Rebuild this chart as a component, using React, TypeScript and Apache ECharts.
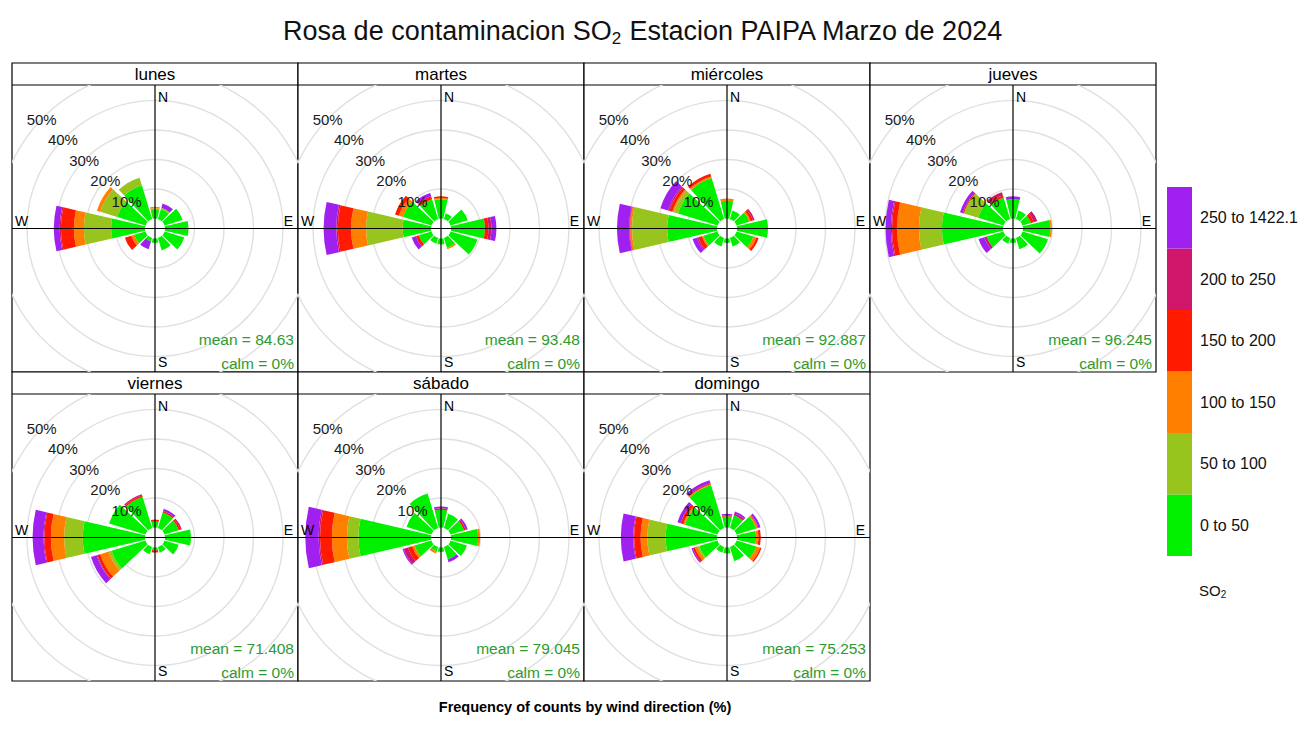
import React, { useEffect, useRef } from "react";
import * as echarts from "echarts";

// ---------- DATA ----------
const directions = ["0", "30", "60", "90", "120", "150", "180", "210", "240", "270", "300", "330"];
const binLabels = ["0 to 50", "50 to 100", "100 to 150", "150 to 200", "200 to 250", "250 to 1422.1"];
const binColors = ["#00F000", "#98C41E", "#FF8000", "#FF1A00", "#D0166B", "#A020F0"];
const dayNames = ["lunes", "martes", "miércoles", "jueves", "viernes", "sábado", "domingo"];
const dayMeans = ["84.63", "93.48", "92.887", "96.245", "71.408", "79.045", "75.253"];
const dayCalm = ["0%", "0%", "0%", "0%", "0%", "0%", "0%"];
const ringTicks = [10, 20, 30, 40, 50];

// frequency (%) per direction (0..330 by 30) for each SO2 bin
const lunes = [
  [3, 3.5, 6.4, 8, 7, 4.4, 1.5, 1.2, 4, 11.5, 10, 11.9],
  [0.5, 0.5, 0, 0, 0, 0, 0, 0, 0, 9.2, 6, 2.7],
  [0.5, 0, 0, 0, 0, 0, 0, 0, 1, 3.4, 1.2, 0],
  [0, 0, 0, 0, 0, 0, 0, 0, 2.3, 4.4, 0, 0],
  [0, 0, 0, 0, 0, 0, 0, 0, 0, 0.4, 0, 0],
  [0, 1.5, 0, 0, 0, 0, 0, 2.8, 0, 2, 0, 0],
];
const martes = [
  [6.5, 2, 6.1, 11.5, 9.5, 3.5, 2, 2, 4.5, 9.6, 10, 7],
  [0, 0, 0, 0, 0, 0, 0, 0, 0, 12.4, 0, 0],
  [0.5, 0, 0, 0, 0, 0.5, 0, 0, 0, 5.1, 1.5, 0],
  [0.5, 0, 0, 1.2, 0, 0, 0, 0, 1, 4.5, 1.4, 1],
  [0, 0, 0, 1, 0, 0, 0, 0, 0, 0.5, 0, 0],
  [0, 0, 0, 1.7, 0, 0, 0, 0, 1.5, 4.3, 0, 1.2],
];
const miercoles = [
  [6, 3, 4.5, 10.5, 6, 3, 1.5, 3, 5, 16.9, 14, 14.5],
  [0, 0, 0, 0, 0, 0, 0, 0, 0, 11.9, 1.5, 0],
  [0.8, 0, 0.5, 0, 1, 0, 0, 0, 0.5, 0.6, 0.5, 0.5],
  [0, 0, 0.8, 0, 0.8, 0, 0, 0, 1.3, 0.2, 1, 1],
  [0, 0, 0.6, 0, 0, 0, 0, 0, 0.5, 0.2, 0.5, 0],
  [0, 0, 0, 0, 0, 0, 0, 0, 1.5, 4.1, 2.7, 0],
];
const jueves = [
  [6.5, 3, 3, 9.3, 9, 4, 1.5, 2, 6, 20.7, 9, 7.5],
  [0, 0, 0, 0, 0, 0, 0, 0, 0, 7.8, 5, 0],
  [0, 0, 0, 0.5, 0, 0, 0, 0, 0, 7.4, 0, 0],
  [0, 0, 1, 0, 0, 0, 0, 0, 0, 1.7, 0.4, 0.8],
  [0, 0, 1.2, 0, 0, 0, 0, 0, 0.8, 0.4, 0, 1.2],
  [1, 0, 0, 0, 0, 0, 0, 0, 2, 1.8, 1, 0],
];
const viernes = [
  [2, 5.5, 5, 8.8, 5, 2, 1, 2.5, 12, 21.1, 12.9, 11],
  [0, 0, 0, 0, 0, 0, 0, 0, 1, 6.3, 0, 0],
  [0, 0, 0, 0, 0, 0, 0, 0, 3, 4.5, 0, 0],
  [0.7, 0.5, 0.6, 0, 0, 0, 0.7, 0, 1, 2.2, 0, 0.5],
  [0, 0, 0.5, 0, 0, 0, 0, 0, 0.3, 0.3, 0, 0.4],
  [0, 0.8, 0, 0, 0, 0, 0, 0, 2, 3.7, 0, 0],
];
const sabado = [
  [6, 5, 4.8, 9.2, 5.8, 4.4, 1.5, 1.5, 6, 24.6, 8.8, 12.2],
  [0, 0, 0, 0, 0, 0, 0, 0, 0, 3.9, 0, 0],
  [0, 0, 0, 0.7, 0, 0, 0, 0.8, 0.8, 5.1, 0, 0],
  [0.5, 0, 0.6, 0, 0, 0, 0, 0, 1.5, 4, 0, 0],
  [0, 0, 0, 0, 0, 0, 0, 0, 1.5, 0.5, 0, 0],
  [0.6, 0, 0.7, 0, 0, 1, 0, 0, 0.4, 4.5, 0, 0],
];
const domingo = [
  [3.8, 4.5, 7, 6.5, 7, 5, 2, 2, 6.5, 17.4, 11.5, 15.2],
  [0, 0, 0, 0, 0, 0, 0, 0, 0.5, 6.2, 0, 0],
  [0, 0, 0.5, 0.8, 1.3, 0, 0, 0, 1, 2.3, 0.6, 0.3],
  [0.4, 0, 0, 0.8, 0.5, 0, 0, 0, 0.7, 2.2, 1, 0.4],
  [0, 0.6, 0.3, 0, 0, 0, 0, 0, 0, 0.3, 0, 0],
  [0.5, 0.7, 0.7, 0, 0, 0, 0, 0, 0.5, 4.2, 1.1, 1],
];
const dayData = [lunes, martes, miercoles, jueves, viernes, sabado, domingo];

// ---------- LAYOUT ----------
const FONT = "'Liberation Sans', Arial, Helvetica, sans-serif";
const COL_X = [12, 298, 584, 870];
const ROW_TOP = [63, 372];
const PANEL_W = 286;
const STRIP_H = 22;
const PLOT_H = 287;
const HOLE = 10;
const PX_PER_PCT = 2.95;
const AXIS_MAX = 50;
const STAT_COLOR = "#2E9B2E";

function panelPos(i: number) {
  const col = i % 4;
  const row = Math.floor(i / 4);
  return { x: COL_X[col], y: ROW_TOP[row] };
}

function Panel({ index }: { index: number }) {
  const ref = useRef<HTMLDivElement>(null);
  useEffect(() => {
    if (!ref.current) return;
    const chart = echarts.init(ref.current, undefined, { renderer: "svg" });
    const w = PANEL_W;
    const h = PLOT_H;
    const cx = w / 2;
    const cy = h / 2;
    const outer = HOLE + PX_PER_PCT * AXIS_MAX;
    const ringInner = HOLE + PX_PER_PCT * ringTicks[0];
    const hiddenAngle = {
      type: "value" as const,
      min: 0,
      max: 360,
      startAngle: 136,
      axisLine: { show: false },
      axisTick: { show: false },
      axisLabel: { show: false },
      splitLine: { show: false },
    };
    const data = dayData[index];
    const txt = (text: string, x: number, y: number, align: string, va: string, size: number, fill = "#000") => ({
      type: "text",
      z: 100,
      x,
      y,
      style: { text, fontSize: size, fontFamily: FONT, fill, align, verticalAlign: va },
    });
    chart.setOption({
      animation: false,
      polar: [
        { center: ["50%", "50%"], radius: [HOLE, outer] },
        { center: ["50%", "50%"], radius: [ringInner, outer] },
        { center: ["50%", "50%"], radius: [ringInner, outer] },
      ],
      angleAxis: [
        {
          polarIndex: 0,
          type: "category",
          data: directions,
          startAngle: 105,
          clockwise: true,
          boundaryGap: true,
          axisLine: { show: false },
          axisTick: { show: false },
          axisLabel: { show: false },
          splitLine: { show: false },
        },
        { polarIndex: 1, ...hiddenAngle },
        { polarIndex: 2, ...hiddenAngle },
      ],
      radiusAxis: [
        {
          polarIndex: 0,
          type: "value",
          min: 0,
          max: AXIS_MAX,
          axisLine: { show: false },
          axisTick: { show: false },
          axisLabel: { show: false },
          splitLine: { show: false },
        },
        {
          polarIndex: 1,
          type: "value",
          min: ringTicks[0],
          max: ringTicks[ringTicks.length - 1],
          interval: 10,
          z: 1,
          axisLine: { show: false },
          axisTick: { show: false },
          axisLabel: { show: false },
          splitLine: { show: true, lineStyle: { color: "#E0E0E0", width: 1.4 } },
        },
        {
          polarIndex: 2,
          type: "value",
          min: ringTicks[0],
          max: ringTicks[ringTicks.length - 1],
          interval: 10,
          z: 10,
          axisLine: { show: false },
          axisTick: { show: false },
          splitLine: { show: false },
          axisLabel: {
            show: true,
            formatter: "{value}%",
            margin: 0,
            align: "center",
            verticalAlign: "middle",
            fontSize: 15,
            color: "#1a1a1a",
            fontFamily: FONT,
          },
        },
      ],
      series: binLabels.map((name, bi) => ({
        name,
        type: "bar",
        coordinateSystem: "polar",
        polarIndex: 0,
        stack: "so2",
        barCategoryGap: "13%",
        silent: true,
        itemStyle: { color: binColors[bi] },
        data: data[bi],
      })),
      graphic: [
        { type: "line", z: 100, shape: { x1: cx, y1: 0, x2: cx, y2: h }, style: { stroke: "#000", lineWidth: 1.2 } },
        { type: "line", z: 100, shape: { x1: 0, y1: cy, x2: w, y2: cy }, style: { stroke: "#000", lineWidth: 1.2 } },
        txt("N", cx + 3, 5, "left", "top", 14),
        txt("S", cx + 3, h - 3, "left", "bottom", 14),
        txt("W", 3, cy - 1, "left", "bottom", 14),
        txt("E", w - 5, cy - 1, "right", "bottom", 14),
        txt("mean = " + dayMeans[index], w - 4, h - 33, "right", "middle", 15.5, STAT_COLOR),
        txt("calm = " + dayCalm[index], w - 4, h - 9, "right", "middle", 15.5, STAT_COLOR),
      ],
    });
    return () => chart.dispose();
  }, [index]);
  const p = panelPos(index);
  return (
    <div
      ref={ref}
      style={{ position: "absolute", left: p.x, top: p.y + STRIP_H, width: PANEL_W, height: PLOT_H }}
    />
  );
}

function Frame() {
  const ref = useRef<HTMLDivElement>(null);
  useEffect(() => {
    if (!ref.current) return;
    const chart = echarts.init(ref.current, undefined, { renderer: "svg" });
    const g: any[] = [];
    dayNames.forEach((name, i) => {
      const p = panelPos(i);
      g.push({
        type: "rect",
        shape: { x: p.x, y: p.y, width: PANEL_W, height: STRIP_H + PLOT_H },
        style: { fill: "#fff", stroke: "#000", lineWidth: 1.2 },
      });
      g.push({
        type: "line",
        shape: { x1: p.x, y1: p.y + STRIP_H, x2: p.x + PANEL_W, y2: p.y + STRIP_H },
        style: { stroke: "#000", lineWidth: 1.2 },
      });
      g.push({
        type: "text",
        x: p.x + PANEL_W / 2,
        y: p.y + STRIP_H / 2 + 0.5,
        style: { text: name, fontSize: 17, fontFamily: FONT, fill: "#000", align: "center", verticalAlign: "middle" },
      });
    });
    // title
    g.push({
      type: "text",
      x: 643,
      y: 31,
      style: {
        text: "{a|Rosa de contaminacion SO}{b|2}{a| Estacion PAIPA Marzo de 2024}",
        align: "center",
        verticalAlign: "middle",
        rich: {
          a: { fontSize: 27, fontFamily: FONT, fill: "#111", lineHeight: 31 },
          b: { fontSize: 17, fontFamily: FONT, fill: "#111", lineHeight: 14, verticalAlign: "bottom" },
        },
      },
    });
    // footer
    g.push({
      type: "text",
      x: 585,
      y: 707,
      style: {
        text: "Frequency of counts by wind direction (%)",
        fontSize: 14.5,
        fontWeight: "bold",
        fontFamily: FONT,
        fill: "#000",
        align: "center",
        verticalAlign: "middle",
      },
    });
    // legend
    const lx = 1167;
    const lBottom = 556;
    const bh = 61.5;
    binLabels.forEach((lab, i) => {
      const top = lBottom - (i + 1) * bh;
      g.push({
        type: "rect",
        shape: { x: lx, y: top, width: 25, height: bh },
        style: { fill: binColors[i], stroke: null },
      });
      g.push({
        type: "text",
        x: 1200,
        y: top + bh / 2,
        style: { text: lab, fontSize: 16, fontFamily: FONT, fill: "#111", align: "left", verticalAlign: "middle" },
      });
    });
    g.push({
      type: "text",
      x: 1199,
      y: 590,
      style: {
        text: "{a|SO}{b|2}",
        align: "left",
        verticalAlign: "middle",
        rich: {
          a: { fontSize: 15, fontFamily: FONT, fill: "#111", lineHeight: 18 },
          b: { fontSize: 10, fontFamily: FONT, fill: "#111", lineHeight: 8, verticalAlign: "bottom" },
        },
      },
    });
    chart.setOption({ animation: false, graphic: g });
    return () => chart.dispose();
  }, []);
  return <div ref={ref} style={{ position: "absolute", left: 0, top: 0, width: 1312, height: 735 }} />;
}

export default function App() {
  return (
    <div style={{ position: "absolute", left: 0, top: 0, width: 1312, height: 735, background: "#fff", overflow: "hidden" }}>
      <Frame />
      {dayNames.map((_, i) => (
        <Panel key={i} index={i} />
      ))}
    </div>
  );
}
